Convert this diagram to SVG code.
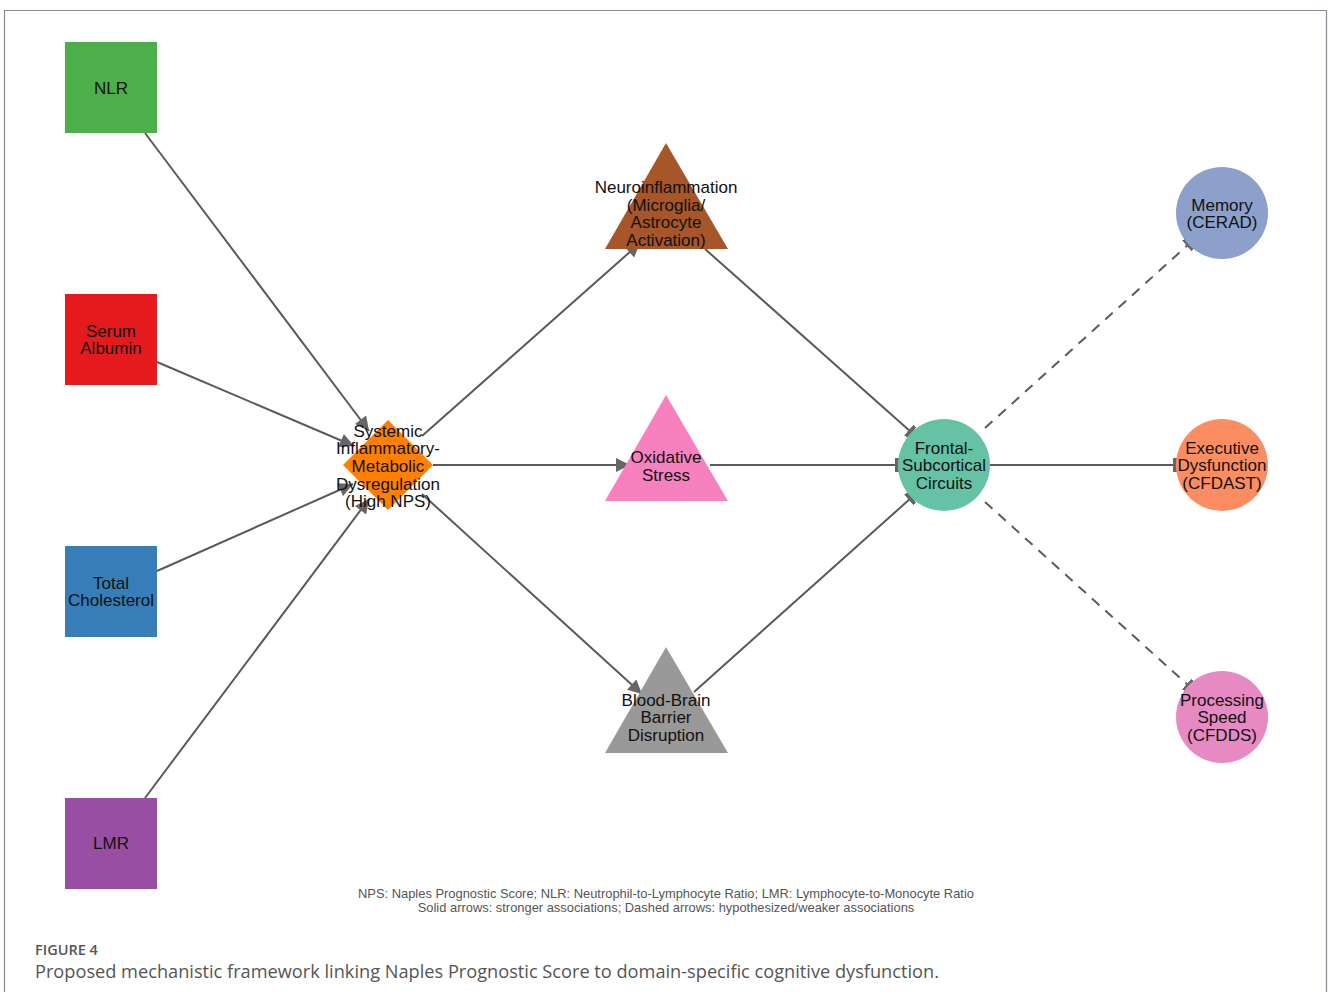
<svg xmlns="http://www.w3.org/2000/svg" width="1328" height="992" viewBox="0 0 1328 992">
<style>
.lbl{font-family:"Liberation Sans",Arial,sans-serif;font-size:17px;fill:#111;text-anchor:middle}
.e{stroke:#5a5a5a;stroke-width:2;fill:none}
.d{stroke-dasharray:10,8}
.note{font-family:"Liberation Sans",Arial,sans-serif;font-size:12.9px;fill:#555;text-anchor:middle}
</style>
<defs>
<marker id="arr" viewBox="0 0 10 10" refX="10" refY="5" markerWidth="7.5" markerHeight="7" markerUnits="strokeWidth" orient="auto">
<path d="M0,0 L10,5 L0,10 z" fill="#666"/>
</marker>
<marker id="tee" viewBox="0 0 4 14" refX="3" refY="7" markerWidth="2" markerHeight="7" markerUnits="strokeWidth" orient="auto">
<rect x="0" y="0" width="4" height="14" fill="#666"/>
</marker>
</defs>
<rect x="0" y="0" width="1328" height="992" fill="#fff"/>
<path d="M4.5,992 V10.5 H1326.5 V992" fill="none" stroke="#8a8a96" stroke-width="1.2"/>

<g id="connectors">
<line class="e" x1="145" y1="133" x2="369" y2="431" marker-end="url(#arr)"/>
<line class="e" x1="157" y1="362" x2="354" y2="446" marker-end="url(#arr)"/>
<line class="e" x1="157" y1="571" x2="353" y2="484" marker-end="url(#arr)"/>
<line class="e" x1="145" y1="798" x2="369" y2="499" marker-end="url(#arr)"/>
<line class="e" x1="422" y1="436" x2="640" y2="243" marker-end="url(#arr)"/>
<line class="e" x1="433" y1="465" x2="630" y2="465" marker-end="url(#arr)"/>
<line class="e" x1="422" y1="494" x2="642" y2="694" marker-end="url(#arr)"/>
<line class="e" x1="705" y1="249" x2="911" y2="432" marker-end="url(#tee)"/>
<line class="e" x1="710" y1="465" x2="898" y2="465" marker-end="url(#tee)"/>
<line class="e" x1="694" y1="692" x2="911" y2="498" marker-end="url(#tee)"/>
<line class="e d" x1="985" y1="428" x2="1189" y2="244" marker-end="url(#tee)"/>
<line class="e" x1="990" y1="465" x2="1176" y2="465" marker-end="url(#tee)"/>
<line class="e d" x1="985" y1="502" x2="1189" y2="686" marker-end="url(#tee)"/>
</g>

<g id="nlr">
<rect x="65" y="42" width="92" height="91" fill="#4daf4a"/>
<text class="lbl" x="111" y="94">NLR</text>
</g>
<g id="serum-albumin">
<rect x="65" y="294" width="92" height="91" fill="#e41a1c"/>
<text class="lbl" x="111" y="337">Serum</text>
<text class="lbl" x="111" y="354">Albumin</text>
</g>
<g id="total-cholesterol">
<rect x="65" y="546" width="92" height="91" fill="#377eb8"/>
<text class="lbl" x="111" y="589">Total</text>
<text class="lbl" x="111" y="606">Cholesterol</text>
</g>
<g id="lmr">
<rect x="65" y="798" width="92" height="91" fill="#984ea3"/>
<text class="lbl" x="111" y="849">LMR</text>
</g>

<g id="nps">
<polygon points="388,420 433,465 388,510 343,465" fill="#ff7f00"/>
<text class="lbl" x="388" y="437">Systemic</text>
<text class="lbl" x="388" y="454">Inflammatory-</text>
<text class="lbl" x="388" y="472">Metabolic</text>
<text class="lbl" x="388" y="490">Dysregulation</text>
<text class="lbl" x="388" y="507">(High NPS)</text>
</g>

<g id="neuroinflammation">
<polygon points="666,143 728,249 605,249" fill="#a65628"/>
<text class="lbl" x="666" y="193">Neuroinflammation</text>
<text class="lbl" x="666" y="211">(Microglia/</text>
<text class="lbl" x="666" y="228">Astrocyte</text>
<text class="lbl" x="666" y="246">Activation)</text>
</g>
<g id="oxidative-stress">
<polygon points="666,395 728,501 605,501" fill="#f781bf"/>
<text class="lbl" x="666" y="463">Oxidative</text>
<text class="lbl" x="666" y="481">Stress</text>
</g>
<g id="bbb">
<polygon points="666,647 728,753 605,753" fill="#999999"/>
<text class="lbl" x="666" y="706">Blood-Brain</text>
<text class="lbl" x="666" y="723">Barrier</text>
<text class="lbl" x="666" y="741">Disruption</text>
</g>

<g id="frontal">
<circle cx="944" cy="465" r="46" fill="#66c2a5"/>
<text class="lbl" x="944" y="454">Frontal-</text>
<text class="lbl" x="944" y="471">Subcortical</text>
<text class="lbl" x="944" y="489">Circuits</text>
</g>
<g id="memory">
<circle cx="1222" cy="213" r="46" fill="#8da0cb"/>
<text class="lbl" x="1222" y="211">Memory</text>
<text class="lbl" x="1222" y="228">(CERAD)</text>
</g>
<g id="executive">
<circle cx="1222" cy="465" r="46" fill="#fc8d62"/>
<text class="lbl" x="1222" y="454">Executive</text>
<text class="lbl" x="1222" y="471">Dysfunction</text>
<text class="lbl" x="1222" y="489">(CFDAST)</text>
</g>
<g id="processing">
<circle cx="1222" cy="717" r="46" fill="#e78ac3"/>
<text class="lbl" x="1222" y="706">Processing</text>
<text class="lbl" x="1222" y="723">Speed</text>
<text class="lbl" x="1222" y="741">(CFDDS)</text>
</g>

<text class="note" x="666" y="898">NPS: Naples Prognostic Score; NLR: Neutrophil-to-Lymphocyte Ratio; LMR: Lymphocyte-to-Monocyte Ratio</text>
<text class="note" x="666" y="912">Solid arrows: stronger associations; Dashed arrows: hypothesized/weaker associations</text>

<text x="35" y="955" font-family="'Open Sans','Liberation Sans',sans-serif" font-size="14.5" font-weight="600" fill="#555">FIGURE 4</text>
<text x="35" y="978" font-family="'Open Sans','Liberation Sans',sans-serif" font-size="18.2" fill="#555">Proposed mechanistic framework linking Naples Prognostic Score to domain-specific cognitive dysfunction.</text>
</svg>
